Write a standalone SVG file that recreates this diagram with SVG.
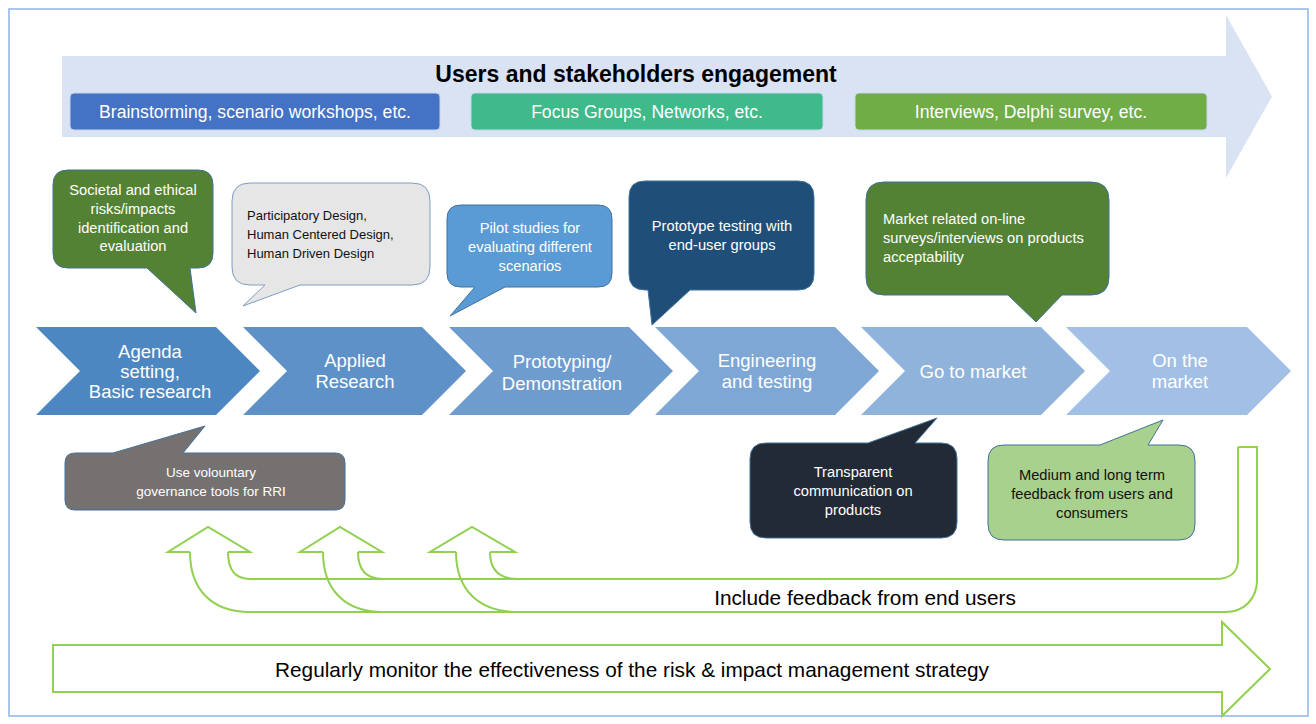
<svg xmlns="http://www.w3.org/2000/svg" width="1316" height="724" viewBox="0 0 1316 724">
<style>
text{font-family:"Liberation Sans",Arial,sans-serif;}
.frame{fill:#fff;stroke:#8FB4E3;stroke-width:1.5}
.band{fill:#DAE3F3}
.title{font-size:23px;font-weight:bold;fill:#000;text-anchor:middle}
.box{stroke:#C9D6EE;stroke-width:1}
.boxt{font-size:17.6px;fill:#fff;text-anchor:middle}
.chev{stroke:none}
.chevt{font-size:18.5px;fill:#fff;text-anchor:middle}
.call{stroke:#41719C;stroke-width:1}
.ct{font-size:14.7px;fill:#fff}
.ctd{font-size:14.7px;fill:#111}
.mid{text-anchor:middle}
.fb{fill:none;stroke:#92D050;stroke-width:2}
.big{font-size:20.8px;fill:#000;text-anchor:middle}
</style>
<rect class="frame" x="9" y="9" width="1299" height="707"/>

<g id="engagement">
<path class="band" d="M62,56 H1226 V15 L1272,96.5 L1226,178 V137 H62 Z"/>
<text class="title" x="636" y="82">Users and stakeholders engagement</text>
</g>
<g id="box-brainstorming">
<rect class="box" x="70" y="93" width="370" height="37" rx="4" fill="#4472C4"/>
<text class="boxt" x="255" y="118">Brainstorming, scenario workshops, etc.</text>
</g>
<g id="box-focus">
<rect class="box" x="471" y="93" width="352" height="37" rx="4" fill="#3FBA8A"/>
<text class="boxt" x="647" y="118">Focus Groups, Networks, etc.</text>
</g>
<g id="box-interviews">
<rect class="box" x="855" y="93" width="352" height="37" rx="4" fill="#70AD47"/>
<text class="boxt" x="1031" y="118">Interviews, Delphi survey, etc.</text>
</g>

<g id="chevron-1">
<path class="chev" fill="#4D87C1" d="M36,327 H216 L260,371 L216,415 H36 L80,371 Z"/>
<text class="chevt" x="150" y="358">Agenda</text>
<text class="chevt" x="150" y="378">setting,</text>
<text class="chevt" x="150" y="398">Basic research</text>
</g>
<g id="chevron-2">
<path class="chev" fill="#5E91C8" d="M243,327 H422 L466,371 L422,415 H243 L287,371 Z"/>
<text class="chevt" x="355" y="367">Applied</text>
<text class="chevt" x="355" y="388">Research</text>
</g>
<g id="chevron-3">
<path class="chev" fill="#6E9CCE" d="M449,327 H629 L673,371 L629,415 H449 L493,371 Z"/>
<text class="chevt" x="562" y="368">Prototyping/</text>
<text class="chevt" x="562" y="390">Demonstration</text>
</g>
<g id="chevron-4">
<path class="chev" fill="#7EA7D5" d="M655,327 H835 L879,371 L835,415 H655 L699,371 Z"/>
<text class="chevt" x="767" y="367">Engineering</text>
<text class="chevt" x="767" y="388">and testing</text>
</g>
<g id="chevron-5">
<path class="chev" fill="#8FB3DB" d="M861,327 H1041 L1085,371 L1041,415 H861 L905,371 Z"/>
<text class="chevt" x="973" y="378">Go to market</text>
</g>
<g id="chevron-6">
<path class="chev" fill="#A2C0E5" d="M1066,327 H1247 L1291,371 L1247,415 H1066 L1110,371 Z"/>
<text class="chevt" x="1180" y="367">On the</text>
<text class="chevt" x="1180" y="388">market</text>
</g>

<g id="callout-societal">
<path class="call" fill="#548235" d="M68,170 H198 Q213,170 213,185 V253 Q213,268 198,268 H190 L196,313 L147,268 H68 Q53,268 53,253 V185 Q53,170 68,170 Z"/>
<text class="ct mid" x="133" y="195">Societal and ethical</text>
<text class="ct mid" x="133" y="214">risks/impacts</text>
<text class="ct mid" x="133" y="233">identification and</text>
<text class="ct mid" x="133" y="251">evaluation</text>
</g>
<g id="callout-participatory">
<path fill="#E7E6E6" stroke="#7F9DC4" stroke-width="1" d="M250,183 H412 Q430,183 430,201 V267 Q430,285 412,285 H300 L243,306 L265,285 H250 Q232,285 232,267 V201 Q232,183 250,183 Z"/>
<text class="ctd" x="247" y="220" style="font-size:13px">Participatory Design,</text>
<text class="ctd" x="247" y="239" style="font-size:13px">Human Centered Design,</text>
<text class="ctd" x="247" y="258" style="font-size:13px">Human Driven Design</text>
</g>
<g id="callout-pilot">
<path class="call" fill="#5B9BD5" d="M461,205 H598 Q612,205 612,219 V273 Q612,287 598,287 H505 L450,316 L475,287 H461 Q447,287 447,273 V219 Q447,205 461,205 Z"/>
<text class="ct mid" x="530" y="233">Pilot studies for</text>
<text class="ct mid" x="530" y="252">evaluating different</text>
<text class="ct mid" x="530" y="271">scenarios</text>
</g>
<g id="callout-prototype">
<path class="call" fill="#1F4E79" d="M645,181 H798 Q814,181 814,197 V274 Q814,290 798,290 H690 L652,325 L648,290 H645 Q629,290 629,274 V197 Q629,181 645,181 Z"/>
<text class="ct mid" x="722" y="231">Prototype testing with</text>
<text class="ct mid" x="722" y="250">end-user groups</text>
</g>
<g id="callout-market">
<path class="call" fill="#548235" d="M884,182 H1091 Q1109,182 1109,200 V277 Q1109,295 1091,295 H1062 L1036,322 L1008,295 H884 Q866,295 866,277 V200 Q866,182 884,182 Z"/>
<text class="ct" x="883" y="224">Market related on-line</text>
<text class="ct" x="883" y="243">surveys/interviews on products</text>
<text class="ct" x="883" y="262">acceptability</text>
</g>

<g id="callout-governance">
<path class="call" fill="#767171" d="M75,453 H113 L205,426 L183,453 H335 Q345,453 345,463 V500 Q345,510 335,510 H75 Q65,510 65,500 V463 Q65,453 75,453 Z"/>
<text class="ct mid" x="211" y="477" style="font-size:13.5px">Use volountary</text>
<text class="ct mid" x="211" y="496" style="font-size:13.5px">governance tools for RRI</text>
</g>
<g id="callout-transparent">
<path class="call" fill="#222A35" d="M766,443 H868 L937,418 L915,443 H941 Q957,443 957,459 V522 Q957,538 941,538 H766 Q750,538 750,522 V459 Q750,443 766,443 Z"/>
<text class="ct mid" x="853" y="477">Transparent</text>
<text class="ct mid" x="853" y="496">communication on</text>
<text class="ct mid" x="853" y="515">products</text>
</g>
<g id="callout-feedback">
<path class="call" fill="#A9D18E" d="M1004,445 H1100 L1163,420 L1148,445 H1179 Q1195,445 1195,461 V524 Q1195,540 1179,540 H1004 Q988,540 988,524 V461 Q988,445 1004,445 Z"/>
<text class="ctd mid" x="1092" y="480">Medium and long term</text>
<text class="ctd mid" x="1092" y="499">feedback from users and</text>
<text class="ctd mid" x="1092" y="518">consumers</text>
</g>

<g id="connectors">
<path class="fb" d="M1238,447 H1257 V580 C1257,598 1245,612 1225,612 H250"/>
<path class="fb" d="M1238,447 V560 C1238,572 1230,579 1215,579 H250"/>
<path class="fb" d="M190,552 H168 L208,527 L250,552 H228"/>
<path class="fb" d="M190,552 C190,590 212,612 250,612"/>
<path class="fb" d="M228,552 C228,570 236,579 250,579"/>
<path class="fb" d="M323,552 H300 L340,527 L382,552 H358"/>
<path class="fb" d="M323,552 C323,590 345,612 383,612"/>
<path class="fb" d="M358,552 C358,570 366,579 383,579"/>
<path class="fb" d="M456,552 H430 L472,527 L515,552 H490"/>
<path class="fb" d="M456,552 C456,590 479,612 518,612"/>
<path class="fb" d="M490,552 C490,570 500,579 518,579"/>
<text class="big" x="865" y="605">Include feedback from end users</text>
</g>

<g id="monitor">
<path fill="#fff" stroke="#92D050" stroke-width="2" d="M53,645 H1222 V622 L1270,669 L1222,716 V692 H53 Z"/>
<text class="big" x="632" y="677">Regularly monitor the effectiveness of the risk &amp; impact management strategy</text>
</g>
</svg>
